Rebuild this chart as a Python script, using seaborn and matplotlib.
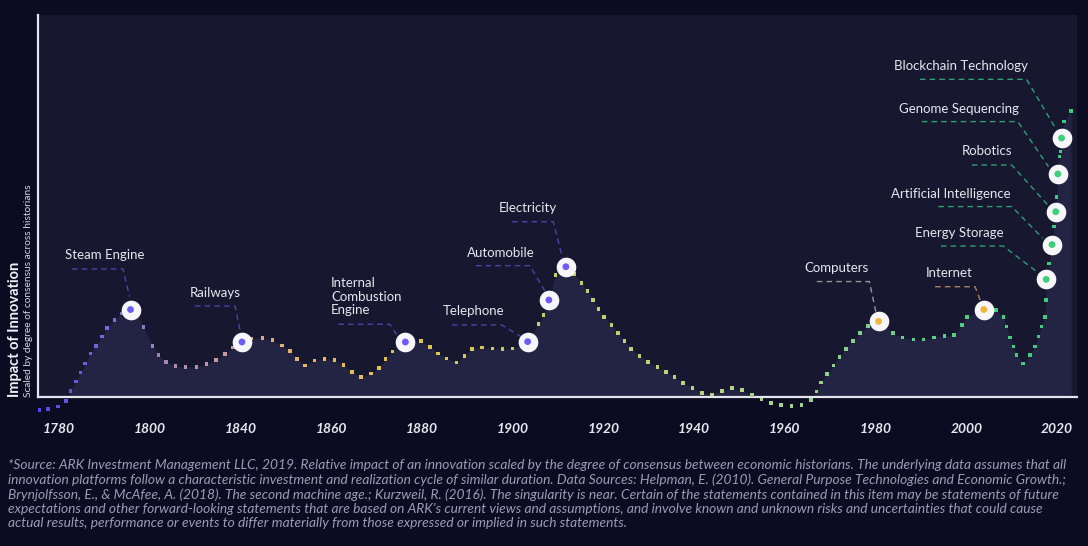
import numpy as np
import pandas as pd
import seaborn as sns
import matplotlib.pyplot as plt
from matplotlib.colors import LinearSegmentedColormap

# ---------------- data ----------------
years = [1775.3, 1777.4, 1779.8, 1781.7, 1782.8, 1784.1, 1785.2, 1786.3, 1787.6, 1788.9,
         1790.3, 1791.6, 1793.3, 1795.1, 1797.2, 1798.7, 1800.3, 1802.5, 1803.9, 1805.7,
         1808.0, 1810.4, 1813.1, 1815.5, 1817.8, 1819.9, 1821.9, 1824.0, 1826.3, 1828.9,
         1831.3, 1833.6, 1835.6, 1837.2, 1839.2, 1841.4, 1843.8, 1846.2, 1848.4, 1850.5,
         1852.6, 1855.0, 1857.0, 1858.5, 1860.2, 1863.3, 1867.0, 1869.2, 1871.2, 1873.2,
         1875.6, 1877.5, 1879.3, 1881.7, 1884.3, 1886.7, 1889.1, 1892.7, 1895.3, 1896.5,
         1897.8, 1899.4, 1901.9, 1903.9, 1905.7, 1907.1, 1908.4, 1909.7, 1911.1, 1912.9,
         1914.4, 1916.0, 1917.6, 1919.6, 1921.7, 1923.9, 1926.0, 1928.0, 1930.1, 1932.4,
         1934.6, 1937.0, 1939.4, 1941.9, 1944.3, 1946.6, 1948.9, 1951.2, 1953.6, 1956.2,
         1958.6, 1960.9, 1962.2, 1963.3, 1964.7, 1966.2, 1967.7, 1969.2, 1970.9, 1972.6,
         1974.6, 1977.1, 1980.5, 1982.9, 1985.5, 1987.9, 1990.4, 1992.9, 1995.2, 1997.1,
         1998.3, 2002.4, 2005.3, 2007.1, 2007.9, 2008.7, 2009.5, 2010.3, 2011.8, 2013.5,
         2014.7, 2015.5, 2016.3, 2017.1, 2017.3, 2017.4, 2018.1, 2018.8, 2019.3, 2019.7,
         2019.9, 2020.2, 2020.6, 2020.8, 2021.1, 2021.7, 2023.4]
impact = [-3.4, -3.2, -2.5, -1.0, 1.5, 4.0, 6.4, 8.8, 11.4, 13.4,
          15.8, 18.1, 20.2, 21.9, 22.9, 22.1, 18.3, 13.4, 11.0, 9.2,
          8.1, 7.9, 7.9, 8.6, 9.7, 11.2, 13.0, 14.4, 15.3, 15.5,
          14.9, 13.5, 12.1, 9.9, 8.2, 9.5, 10.0, 9.7, 8.4, 6.6,
          5.2, 6.1, 7.6, 9.9, 11.9, 14.4, 14.7, 13.1, 11.4, 10.1,
          9.0, 10.7, 12.6, 12.9, 12.7, 12.6, 12.7, 14.5, 19.1, 21.5,
          25.4, 31.9, 34.1, 32.2, 29.9, 27.8, 25.4, 23.0, 20.9, 18.8,
          16.8, 14.7, 12.6, 10.8, 9.2, 7.9, 6.6, 5.2, 3.7, 2.4,
          1.1, 0.7, 1.6, 2.3, 1.8, 0.5, -0.6, -1.5, -2.1, -2.3,
          -2.1, -0.8, 1.4, 3.8, 6.0, 8.3, 10.5, 12.6, 14.7, 16.7,
          18.6, 19.8, 16.8, 15.6, 15.1, 15.1, 15.6, 16.0, 16.2, 18.8,
          20.9, 22.9, 22.8, 21.0, 18.4, 15.6, 13.2, 11.0, 8.8, 11.0,
          13.2, 15.8, 18.4, 20.9, 25.4, 30.8, 35.0, 39.9, 44.6, 48.5,
          52.4, 58.4, 62.9, 64.3, 67.8, 72.1, 74.9]

event_names = ['Steam Engine', 'Railways', 'Internal\nCombustion\nEngine', 'Telephone',
               'Automobile', 'Electricity', 'Computers', 'Internet', 'Energy Storage',
               'Artificial Intelligence', 'Robotics', 'Genome Sequencing', 'Blockchain Technology']
event_years = [1797.2, 1824.0, 1863.3, 1892.7, 1897.8, 1901.9, 1977.1, 2002.4,
               2017.4, 2018.8, 2019.7, 2020.2, 2021.1]
event_impact = [22.9, 14.4, 14.4, 14.5, 25.4, 34.1, 19.8, 22.9, 30.8, 39.9, 48.5, 58.4, 67.8]
event_era = ['industrial'] * 6 + ['digital'] * 2 + ['modern'] * 5

tick_labels = ['1780', '1800', '1840', '1860', '1880', '1900', '1920', '1940',
               '1960', '1980', '2000', '2020']

footnote = ("*Source: ARK Investment Management LLC, 2019. Relative impact of an innovation scaled by the degree of consensus between economic historians. The underlying data assumes that all\n"
            "innovation platforms follow a characteristic investment and realization cycle of similar duration. Data Sources: Helpman, E. (2010). General Purpose Technologies and Economic Growth.;\n"
            "Brynjolfsson, E., & McAfee, A. (2018). The second machine age.; Kurzweil, R. (2016). The singularity is near. Certain of the statements contained in this item may be statements of future\n"
            "expectations and other forward-looking statements that are based on ARK\u2019s current views and assumptions, and involve known and unknown risks and uncertainties that could cause\n"
            "actual results, performance or events to differ materially from those expressed or implied in such statements.")

# ---------------- layout / style ----------------
BG = '#0b0b21'
AX_BG = '#17172f'
FILL = '#232343'
TXT = '#e6e6ef'
SPINE = '#e4e4f0'

# label layout in pixel offsets from the marker centre
text_off = [(-26, 54.5), (-27, 49), (-74.5, 45.3), (-54.2, 30.7), (-48, 46.7), (-38, 58.4),
            (-42.3, 53.2), (-34.5, 36.2), (-87.1, 46.6), (-100.8, 50.4), (-68.5, 61),
            (-98.9, 65), (-101, 72.3)]
leader = [(-58.5, -7.5, 40.5, -1, 13), (-47, -7, 36, -2, 12), (-67, -15.5, 17.7, -7, 4.7),
          (-75.8, -25.8, 16.7, -5.8, 4.4), (-73, -19, 34.3, -4, 9), (-53.7, -12.7, 45, -3.3, 8.4),
          (-61.8, -9.2, 39.8, -2.5, 8.2), (-48.7, -8.7, 22.8, -3.7, 9.5),
          (-105.3, -43, 33.3, -6.3, 5.3), (-113.7, -40.3, 38, -9.3, 6.4),
          (-84, -44, 46.7, -6.4, 5), (-136, -40, 52.3, -9.4, 7.3), (-141.7, -35, 58.7, -5, 8)]
leader_colors = ['#4a44a8'] * 6 + ['#9c948c', '#a8845c'] + ['#2f9e74'] * 5
inner_palette = {'industrial': '#6b5cf5', 'digital': '#f2b53c', 'modern': '#3ecf7a'}

cmap = LinearSegmentedColormap.from_list('era', [
    (0.00, '#5448e6'), (0.06, '#7a66dc'), (0.11, '#9c82b8'), (0.17, '#c29aa0'),
    (0.22, '#d9ac7c'), (0.28, '#e8bc52'), (0.38, '#dcc650'), (0.47, '#c8cc5e'),
    (0.58, '#bcd272'), (0.70, '#a8d488'), (0.78, '#88d08c'), (0.85, '#62cd86'),
    (0.92, '#46cc7e'), (1.00, '#3cc97c')])

sns.set_theme(style='dark')
plt.rcParams['font.family'] = ['Lato', 'DejaVu Sans']

fig = plt.figure(figsize=(10.88, 5.46), dpi=100, facecolor=BG)
W, H = 1088, 546
ax = fig.add_axes([38 / W, 1 - 397 / H, (1077 - 38) / W, (397 - 15) / H])
ax.set_facecolor(AX_BG)
ax.grid(False)
ax.set_xlim(1774.95, 2024.81)
ax.set_ylim(0, 100)

ax.fill_between(years, impact, 0, color=FILL, lw=0, zorder=1)

curve = pd.DataFrame({'year': years, 'impact': impact})
sns.scatterplot(data=curve, x='year', y='impact', hue='year', palette=cmap,
                hue_norm=(1775, 2025), marker='s', s=6.5, linewidth=0, legend=False,
                ax=ax, clip_on=False, zorder=3)

fig.canvas.draw()
inv = ax.transData.inverted()
for i, name in enumerate(event_names):
    mx, my = ax.transData.transform((event_years[i], event_impact[i]))
    hx0, hx1, hy, ex, ey = leader[i]
    pts = inv.transform([(mx + hx0, my + hy), (mx + hx1, my + hy), (mx + ex, my + ey)])
    ax.plot(pts[:, 0], pts[:, 1], ls=(0, (4, 3)), lw=1.0, color=leader_colors[i],
            zorder=4, clip_on=False)
    dx, dy = text_off[i]
    ha = 'left' if '\n' in name else 'center'
    ax.annotate(name, xy=(event_years[i], event_impact[i]), xytext=(dx, dy),
                textcoords='offset pixels', ha=ha, va='center', color=TXT,
                fontsize=9.5, linespacing=1.15, zorder=6, annotation_clip=False)

events = pd.DataFrame({'year': event_years, 'impact': event_impact, 'era': event_era})
sns.scatterplot(data=events, x='year', y='impact', color='#f6f6fb', s=200, linewidth=0,
                legend=False, ax=ax, zorder=5, clip_on=False)
sns.scatterplot(data=events, x='year', y='impact', hue='era', palette=inner_palette, s=24,
                linewidth=0, legend=False, ax=ax, zorder=6, clip_on=False)

ax.set_xlabel('')
ax.set_ylabel('')
ax.set_xticks(np.linspace(1780, 2020, 12))
ax.set_xticklabels(tick_labels, fontsize=10, fontweight='bold', style='italic', color=TXT)
ax.set_yticks([])
ax.tick_params(axis='x', length=0, pad=19)

for s in ['top', 'right']:
    ax.spines[s].set_visible(False)
for s in ['left', 'bottom']:
    ax.spines[s].set_visible(True)
    ax.spines[s].set_color(SPINE)
    ax.spines[s].set_linewidth(1.6)

fig.text(15 / W, 1 - 397 / H, 'Impact of Innovation', rotation=90, ha='center', va='bottom',
         fontsize=10.5, fontweight='bold', color='#f2f2f8')
fig.text(29 / W, 1 - 397 / H, 'Scaled by degree of consensus across historians', rotation=90,
         ha='center', va='bottom', fontsize=7.3, color='#d8d8e4')

fig.text(8 / W, 1 - 459 / H, footnote, ha='left', va='top', fontsize=9.95, style='italic',
         color='#9a9db8', linespacing=1.21)

fig.savefig('out.png', dpi=100, facecolor=BG)
